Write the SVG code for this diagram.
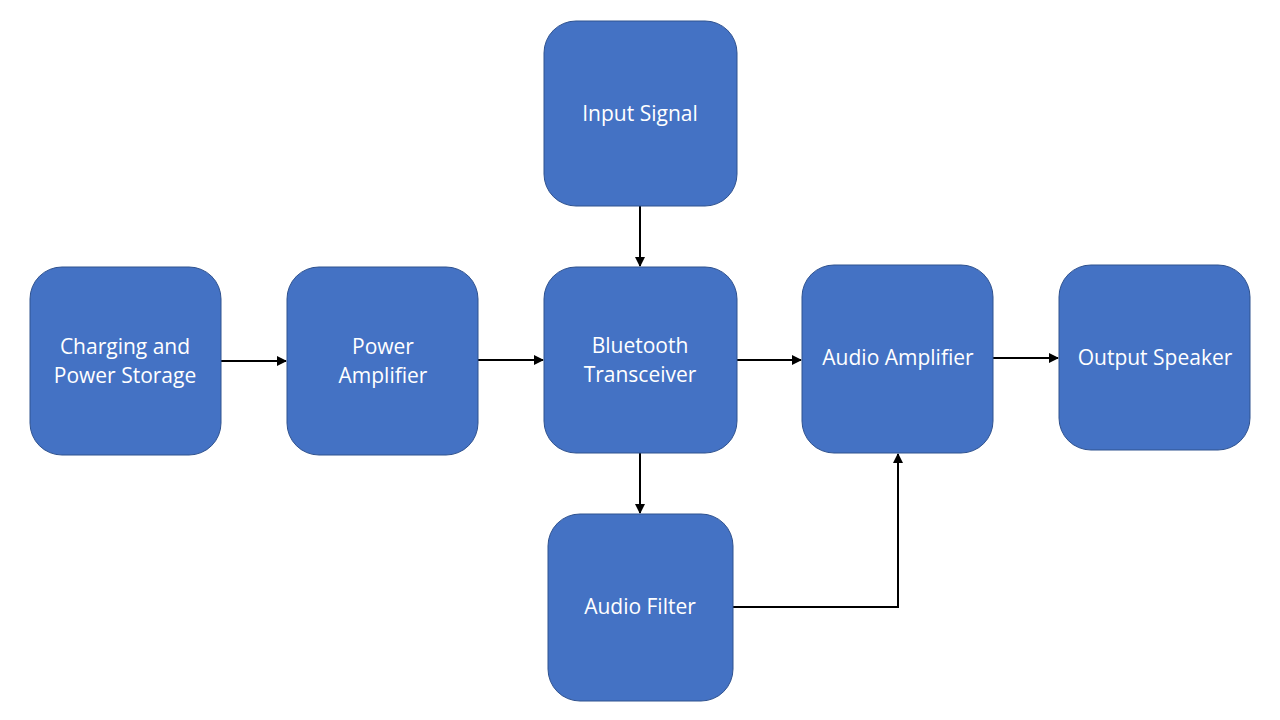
<svg xmlns="http://www.w3.org/2000/svg" width="1280" height="720" viewBox="0 0 1280 720">
<defs>
<style>
.box{fill:#4472C4;stroke:#2F528F;stroke-width:1}
.lbl{font-family:"Open Sans","Liberation Sans",Arial,sans-serif;font-size:21px;fill:#FFFFFF;text-anchor:middle}
.con{fill:none;stroke:#000000;stroke-width:2;marker-end:url(#ah)}
</style>
<marker id="ah" viewBox="0 0 10 10" refX="9" refY="5" markerWidth="5" markerHeight="5" orient="auto" markerUnits="strokeWidth">
<path d="M0,0 L10,5 L0,10 z" fill="#000000"/>
</marker>
</defs>
<rect width="1280" height="720" fill="#FFFFFF"/>
<g id="connectors">
<path class="con" d="M640,206 L640,266"/>
<path class="con" d="M221,361 L286,361"/>
<path class="con" d="M478,360 L543,360"/>
<path class="con" d="M737,360 L801,360"/>
<path class="con" d="M993,358 L1058,358"/>
<path class="con" d="M640,453 L640,513"/>
<path class="con" d="M733,607 L898,607 L898,454"/>
</g>
<g id="input-signal">
<rect class="box" x="544" y="21" width="193" height="185" rx="32"/>
<text class="lbl" x="640" y="121">Input Signal</text>
</g>
<g id="charging">
<rect class="box" x="30" y="267" width="191" height="188" rx="32"/>
<text class="lbl" x="125" y="354">Charging and</text>
<text class="lbl" x="125" y="383">Power Storage</text>
</g>
<g id="power-amplifier">
<rect class="box" x="287" y="267" width="191" height="188" rx="32"/>
<text class="lbl" x="383" y="354">Power</text>
<text class="lbl" x="383" y="383">Amplifier</text>
</g>
<g id="bluetooth">
<rect class="box" x="544" y="267" width="193" height="186" rx="32"/>
<text class="lbl" x="640" y="353">Bluetooth</text>
<text class="lbl" x="640" y="382">Transceiver</text>
</g>
<g id="audio-amplifier">
<rect class="box" x="802" y="265" width="191" height="188" rx="32"/>
<text class="lbl" x="898" y="365">Audio Amplifier</text>
</g>
<g id="output-speaker">
<rect class="box" x="1059" y="265" width="191" height="185" rx="32"/>
<text class="lbl" x="1155" y="365">Output Speaker</text>
</g>
<g id="audio-filter">
<rect class="box" x="548" y="514" width="185" height="187" rx="32"/>
<text class="lbl" x="640" y="614">Audio Filter</text>
</g>
</svg>
